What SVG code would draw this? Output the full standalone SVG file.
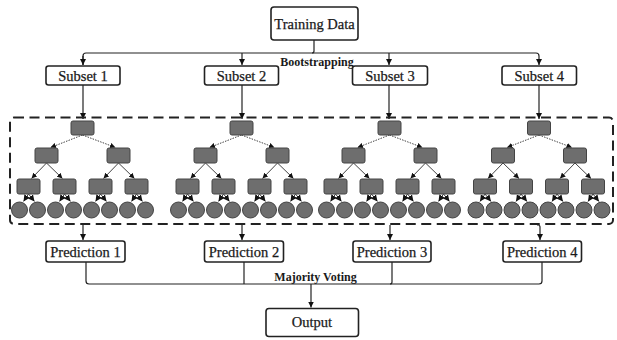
<svg xmlns="http://www.w3.org/2000/svg" xmlns:xlink="http://www.w3.org/1999/xlink" width="617" height="340" viewBox="0 0 617 340">
<style>
.box{fill:#fff;stroke:#222;stroke-width:1.6}
.lbl{font-family:"Liberation Serif",serif;font-size:14.5px;fill:#1a1a1a;text-anchor:middle;stroke:#1a1a1a;stroke-width:0.25}
.bold{font-family:"Liberation Serif",serif;font-size:12px;font-weight:bold;fill:#1a1a1a;text-anchor:middle}
.conn{fill:none;stroke:#222;stroke-width:1.2}
.tn{fill:#6e6e6e;stroke:#444;stroke-width:1}
.te{fill:none;stroke:#444;stroke-width:1}
.dot{stroke-dasharray:1.5 1.2}
</style>
<defs>
<marker id="ah" viewBox="0 0 10 10" refX="10" refY="5" markerWidth="6" markerHeight="6" orient="auto" markerUnits="userSpaceOnUse"><path d="M0 0L10 5L0 10z" fill="#111"/></marker>
<marker id="ahs" viewBox="0 0 10 10" refX="10" refY="5" markerWidth="5.5" markerHeight="5.5" orient="auto" markerUnits="userSpaceOnUse"><path d="M0 0L10 5L0 10z" fill="#111"/></marker>
<marker id="ahl" viewBox="0 0 10 10" refX="10" refY="5" markerWidth="6.5" markerHeight="6.5" orient="auto" markerUnits="userSpaceOnUse"><path d="M0 0L10 5L0 10z" fill="#111"/></marker>
<g id="tree">
<path class="te dot" d="M0 135L-32 147.5" marker-end="url(#ahs)"/>
<path class="te dot" d="M0 135L33 147.5" marker-end="url(#ahs)"/>
<path class="te" d="M-36 163L-51 178.5" marker-end="url(#ahs)"/>
<path class="te" d="M-36 163L-20 178.5" marker-end="url(#ahs)"/>
<path class="te" d="M36 163L21 178.5" marker-end="url(#ahs)"/>
<path class="te" d="M36 163L52 178.5" marker-end="url(#ahs)"/>
<path class="te" d="M-54 194L-59 201.5" marker-end="url(#ahl)"/><path class="te" d="M-54 194L-48 201.5" marker-end="url(#ahl)"/>
<path class="te" d="M-18 194L-23 201.5" marker-end="url(#ahl)"/><path class="te" d="M-18 194L-12 201.5" marker-end="url(#ahl)"/>
<path class="te" d="M18 194L13 201.5" marker-end="url(#ahl)"/><path class="te" d="M18 194L24 201.5" marker-end="url(#ahl)"/>
<path class="te" d="M54 194L49 201.5" marker-end="url(#ahl)"/><path class="te" d="M54 194L60 201.5" marker-end="url(#ahl)"/>
<rect class="tn" x="-11.5" y="121" width="23" height="14" rx="2"/>
<rect class="tn" x="-47.5" y="148" width="23" height="15" rx="2"/>
<rect class="tn" x="24.5" y="148" width="23" height="15" rx="2"/>
<rect class="tn" x="-65.5" y="179" width="23" height="15" rx="2"/>
<rect class="tn" x="-29.5" y="179" width="23" height="15" rx="2"/>
<rect class="tn" x="6.5" y="179" width="23" height="15" rx="2"/>
<rect class="tn" x="42.5" y="179" width="23" height="15" rx="2"/>
<circle class="tn" cx="-63" cy="210" r="8"/><circle class="tn" cx="-45" cy="210" r="8"/>
<circle class="tn" cx="-27" cy="210" r="8"/><circle class="tn" cx="-9" cy="210" r="8"/>
<circle class="tn" cx="9" cy="210" r="8"/><circle class="tn" cx="27" cy="210" r="8"/>
<circle class="tn" cx="45" cy="210" r="8"/><circle class="tn" cx="63" cy="210" r="8"/>
</g>
</defs>

<g id="connectors">
<path class="conn" d="M314 40V51Q314 53 312 53"/>
<path class="conn" d="M83 65V56Q83 53 86 53H536Q539 53 539 56V65" marker-end="url(#ah)"/>
<path class="conn" d="M83 56V65" marker-end="url(#ah)"/>
<path class="conn" d="M242 53V65" marker-end="url(#ah)"/>
<path class="conn" d="M389 53V65" marker-end="url(#ah)"/>
<path class="conn" d="M83 85V119" marker-end="url(#ah)"/>
<path class="conn" d="M242 85V119" marker-end="url(#ah)"/>
<path class="conn" d="M389 85V119" marker-end="url(#ah)"/>
<path class="conn" d="M539 85V119" marker-end="url(#ah)"/>
<path class="conn" d="M83 225V240" marker-end="url(#ah)"/>
<path class="conn" d="M242 225V240" marker-end="url(#ah)"/>
<path class="conn" d="M390 225V240" marker-end="url(#ah)"/>
<path class="conn" d="M537 225H538Q540 225 540 227V240" marker-end="url(#ah)"/>
<path class="conn" d="M86 262V281Q86 284 89 284H539Q542 284 542 281V262"/>
<path class="conn" d="M244 262V284"/>
<path class="conn" d="M392 262V282Q392 284 390 284"/>
<path class="conn" d="M311 284V307.5" marker-end="url(#ah)"/>
</g>

<g id="ensemble">
<rect x="10" y="117.5" width="603" height="106.5" rx="4" fill="none" stroke="#222" stroke-width="2" stroke-dasharray="10 5.5"/>
<use id="tree1" xlink:href="#tree" transform="translate(82.5 0)"/>
<use id="tree2" xlink:href="#tree" transform="translate(241.5 0)"/>
<use id="tree3" xlink:href="#tree" transform="translate(389.5 0)"/>
<use id="tree4" xlink:href="#tree" transform="translate(539 0)"/>
</g>

<g id="training"><rect class="box" x="271" y="7" width="87" height="33" rx="3"/><text class="lbl" x="314.5" y="28.5">Training Data</text></g>
<text id="bootstrapping" class="bold" x="317" y="65.5">Bootstrapping</text>
<g id="subset1"><rect class="box" x="46" y="66" width="74" height="19" rx="2.5"/><text class="lbl" x="83" y="80.5" font-size="14.3">Subset 1</text></g>
<g id="subset2"><rect class="box" x="204.5" y="66" width="74" height="19" rx="2.5"/><text class="lbl" x="241.5" y="80.5" font-size="14.3">Subset 2</text></g>
<g id="subset3"><rect class="box" x="352.5" y="66" width="75" height="19" rx="2.5"/><text class="lbl" x="390" y="80.5" font-size="14.3">Subset 3</text></g>
<g id="subset4"><rect class="box" x="502" y="66" width="74.5" height="19" rx="2.5"/><text class="lbl" x="539.3" y="80.5" font-size="14.3">Subset 4</text></g>
<g id="pred1"><rect class="box" x="46" y="241" width="79" height="21" rx="2.5"/><text class="lbl" x="85.5" y="256.5" font-size="14.3">Prediction 1</text></g>
<g id="pred2"><rect class="box" x="204.5" y="241" width="79" height="21" rx="2.5"/><text class="lbl" x="244" y="256.5" font-size="14.3">Prediction 2</text></g>
<g id="pred3"><rect class="box" x="353" y="241" width="78" height="21" rx="2.5"/><text class="lbl" x="392" y="256.5" font-size="14.3">Prediction 3</text></g>
<g id="pred4"><rect class="box" x="503" y="241" width="78.5" height="21" rx="2.5"/><text class="lbl" x="542.2" y="256.5" font-size="14.3">Prediction 4</text></g>
<text id="majority" class="bold" x="315.5" y="280.5">Majority Voting</text>
<g id="output"><rect class="box" x="266" y="308.5" width="92.5" height="28" rx="3"/><text class="lbl" x="312" y="327">Output</text></g>
</svg>
